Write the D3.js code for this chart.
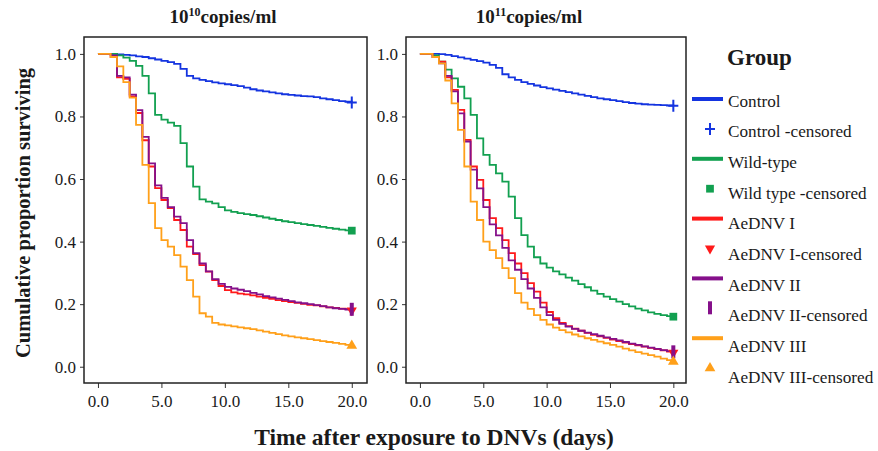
<!DOCTYPE html>
<html>
<head>
<meta charset="utf-8">
<script src="https://cdn.jsdelivr.net/npm/d3@7"></script>
<style>
  body { margin: 0; background: #fff; }
  svg text { font-family: "Liberation Serif", "Times New Roman", serif; fill: #1a1a1a; }
</style>
</head>
<body>
<div id="chart"></div>
<script>
// time points (days)
const days = [0, 0.5, 1, 1.5, 2, 2.5, 3, 3.5, 4, 4.5, 5, 5.5, 6, 6.5, 7, 7.5, 8, 8.5, 9, 9.5, 10,
              10.5, 11, 11.5, 12, 12.5, 13, 13.5, 14, 14.5, 15, 15.5, 16, 16.5, 17, 17.5, 18, 18.5, 19, 19.5, 20];

// 10^10 copies/ml
const control10 = [1, 1, 1, 0.998, 0.997, 0.995, 0.992, 0.99, 0.986, 0.982, 0.978, 0.974, 0.968, 0.952, 0.93, 0.922, 0.917, 0.913, 0.909, 0.906, 0.903,
                   0.9, 0.897, 0.892, 0.887, 0.883, 0.88, 0.877, 0.874, 0.871, 0.869, 0.867, 0.865, 0.864, 0.862, 0.858, 0.855, 0.852, 0.849, 0.847, 0.845];
const wild10 = [1, 1, 1, 0.995, 0.988, 0.978, 0.962, 0.93, 0.874, 0.805, 0.79, 0.78, 0.77, 0.715, 0.64, 0.576, 0.535, 0.528, 0.522, 0.51, 0.5,
                0.495, 0.491, 0.488, 0.485, 0.481, 0.477, 0.473, 0.469, 0.465, 0.462, 0.459, 0.456, 0.453, 0.45, 0.447, 0.444, 0.441, 0.438, 0.436, 0.435];
const dnv1_10 = [1, 1, 0.99, 0.925, 0.92, 0.864, 0.811, 0.724, 0.64, 0.571, 0.533, 0.507, 0.469, 0.437, 0.384, 0.36, 0.325, 0.304, 0.277, 0.258, 0.245,
                 0.238, 0.234, 0.231, 0.228, 0.224, 0.22, 0.217, 0.213, 0.21, 0.207, 0.204, 0.201, 0.198, 0.196, 0.193, 0.19, 0.188, 0.186, 0.184, 0.18];
const dnv2_10 = [1, 1, 0.995, 0.93, 0.925, 0.87, 0.82, 0.735, 0.65, 0.58, 0.54, 0.51, 0.48, 0.459, 0.405, 0.363, 0.33, 0.305, 0.28, 0.265, 0.255,
                 0.25, 0.246, 0.242, 0.236, 0.231, 0.226, 0.222, 0.218, 0.214, 0.21, 0.206, 0.203, 0.2, 0.197, 0.194, 0.19, 0.187, 0.185, 0.183, 0.182];
const dnv3_10 = [1, 1, 0.99, 0.96, 0.91, 0.86, 0.773, 0.645, 0.523, 0.443, 0.405, 0.384, 0.357, 0.32, 0.277, 0.224, 0.171, 0.16, 0.14, 0.135, 0.132,
                 0.129, 0.126, 0.123, 0.12, 0.116, 0.112, 0.108, 0.104, 0.1, 0.097, 0.094, 0.091, 0.088, 0.085, 0.082, 0.079, 0.076, 0.073, 0.07, 0.067];

// 10^11 copies/ml
const control11 = [1, 1, 1, 0.999, 0.997, 0.993, 0.989, 0.985, 0.981, 0.977, 0.972, 0.965, 0.955, 0.935, 0.925, 0.917, 0.91, 0.904, 0.899, 0.894, 0.89,
                   0.886, 0.882, 0.878, 0.874, 0.87, 0.866, 0.862, 0.858, 0.855, 0.852, 0.849, 0.846, 0.843, 0.841, 0.839, 0.838, 0.837, 0.836, 0.835, 0.834];
const wild11 = [1, 1, 0.995, 0.975, 0.95, 0.922, 0.895, 0.858, 0.805, 0.73, 0.677, 0.645, 0.618, 0.592, 0.544, 0.475, 0.421, 0.384, 0.35, 0.33, 0.317,
                0.305, 0.295, 0.285, 0.275, 0.264, 0.254, 0.243, 0.233, 0.224, 0.216, 0.208, 0.2, 0.193, 0.186, 0.18, 0.174, 0.169, 0.165, 0.162, 0.16];
const dnv1_11 = [1, 1, 0.99, 0.975, 0.925, 0.885, 0.821, 0.725, 0.64, 0.597, 0.533, 0.475, 0.443, 0.405, 0.363, 0.33, 0.299, 0.267, 0.24, 0.205, 0.175,
                 0.155, 0.14, 0.13, 0.122, 0.115, 0.108, 0.102, 0.097, 0.092, 0.087, 0.082, 0.077, 0.072, 0.068, 0.064, 0.06, 0.056, 0.052, 0.048, 0.045];
const dnv2_11 = [1, 1, 0.99, 0.97, 0.93, 0.88, 0.81, 0.72, 0.63, 0.57, 0.51, 0.455, 0.42, 0.38, 0.34, 0.31, 0.28, 0.25, 0.22, 0.19, 0.165,
                 0.15, 0.137, 0.128, 0.121, 0.115, 0.109, 0.104, 0.099, 0.094, 0.089, 0.084, 0.079, 0.074, 0.07, 0.065, 0.061, 0.057, 0.053, 0.05, 0.046];
const dnv3_11 = [1, 1, 0.99, 0.97, 0.915, 0.842, 0.757, 0.64, 0.528, 0.469, 0.4, 0.373, 0.347, 0.315, 0.283, 0.235, 0.205, 0.185, 0.165, 0.15, 0.135,
                 0.125, 0.117, 0.11, 0.103, 0.097, 0.091, 0.086, 0.08, 0.075, 0.07, 0.064, 0.058, 0.052, 0.047, 0.042, 0.037, 0.032, 0.026, 0.021, 0.016];

const groups = ["Control", "Wild-type", "AeDNV I", "AeDNV II", "AeDNV III"];
const censoredLabels = ["Control -censored", "Wild type -censored", "AeDNV I-censored", "AeDNV II-censored", "AeDNV III-censored"];
const xTicks = [0, 5, 10, 15, 20];
const yTicks = [0, 0.2, 0.4, 0.6, 0.8, 1.0];

const colors = ["#1434e0", "#12a050", "#ff1a1a", "#85108a", "#ffa01a"];
const symbols = [d3.symbolCross, d3.symbolSquare, "down", "bar", d3.symbolTriangle];

const width = 878, height = 451;

const svg = d3.select("#chart").append("svg")
    .attr("width", width)
    .attr("height", height);

const y = d3.scaleLinear().domain([-0.052, 1.054]).range([383, 37]);

const panels = [
    { title: "10", sup: "10", titleX: 223, left: 84, right: 367, dom: [-1.1, 21.2],
      series: [control10, wild10, dnv1_10, dnv2_10, dnv3_10] },
    { title: "10", sup: "11", titleX: 529, left: 406, right: 686, dom: [-1.1, 21.0],
      series: [control11, wild11, dnv1_11, dnv2_11, dnv3_11] }
];

function drawMarker(g, kind, cx, cy, color) {
    if (kind === "down") {
        g.append("path")
         .attr("d", d3.symbol().type(d3.symbolTriangle).size(45)())
         .attr("transform", `translate(${cx},${cy}) rotate(180)`)
         .attr("fill", color);
    } else if (kind === "bar") {
        g.append("rect")
         .attr("x", cx - 2).attr("y", cy - 7)
         .attr("width", 4).attr("height", 13)
         .attr("fill", color);
    } else if (kind === d3.symbolCross) {
        g.append("path")
         .attr("d", `M${cx - 5},${cy}H${cx + 5}M${cx},${cy - 6}V${cy + 6}`)
         .attr("stroke", color).attr("stroke-width", 2).attr("fill", "none");
    } else {
        g.append("path")
         .attr("d", d3.symbol().type(kind).size(kind === d3.symbolSquare ? 60 : 50)())
         .attr("transform", `translate(${cx},${cy})`)
         .attr("fill", color);
    }
}

panels.forEach(p => {
    const x = d3.scaleLinear().domain(p.dom).range([p.left, p.right]);
    const g = svg.append("g");

    // title
    const t = g.append("text")
        .attr("x", p.titleX).attr("y", 23)
        .attr("text-anchor", "middle")
        .style("font-size", "19px").style("font-weight", "bold");
    t.append("tspan").text(p.title);
    t.append("tspan").attr("dy", -7).style("font-size", "12px").text(p.sup);
    t.append("tspan").attr("dy", 7).text("copies/ml");

    // axes
    g.append("g")
     .attr("transform", `translate(${p.left},0)`)
     .call(d3.axisLeft(y).tickValues(yTicks).tickFormat(d3.format(".1f")).tickSize(4).tickPadding(4))
     .call(a => a.select(".domain").remove())
     .call(a => a.selectAll("text").style("font-size", "17px").attr("font-family", null).attr("fill", "#222"))
     .call(a => a.selectAll("line").attr("stroke", "#333"));

    g.append("g")
     .attr("transform", "translate(0,383)")
     .call(d3.axisBottom(x).tickValues(xTicks).tickFormat(d3.format(".1f")).tickSize(5).tickPadding(7))
     .call(a => a.select(".domain").remove())
     .call(a => a.selectAll("text").style("font-size", "17px").attr("font-family", null).attr("fill", "#222"))
     .call(a => a.selectAll("line").attr("stroke", "#333"));

    // curves
    const line = d3.line()
        .x((d, i) => x(days[i]))
        .y(d => y(d))
        .curve(d3.curveStepAfter);

    p.series.forEach((s, i) => {
        g.append("path")
         .datum(s)
         .attr("fill", "none")
         .attr("stroke", colors[i])
         .attr("stroke-width", 1.8)
         .attr("d", line);
    });

    // censored markers at the last time point
    p.series.forEach((s, i) => {
        drawMarker(g, symbols[i], x(days[days.length - 1]), y(s[s.length - 1]), colors[i]);
    });

    // frame
    g.append("rect")
     .attr("x", p.left).attr("y", 37)
     .attr("width", p.right - p.left).attr("height", 383 - 37)
     .attr("fill", "none").attr("stroke", "#222").attr("stroke-width", 1.5);
});

// axis titles
svg.append("text")
   .attr("transform", "translate(30,213) rotate(-90)")
   .attr("text-anchor", "middle")
   .style("font-size", "20.5px").style("font-weight", "bold")
   .text("Cumulative proportion surviving");

svg.append("text")
   .attr("x", 434).attr("y", 445)
   .attr("text-anchor", "middle")
   .style("font-size", "23.5px").style("font-weight", "bold")
   .text("Time after exposure to DNVs (days)");

// legend
const legend = svg.append("g");
legend.append("text")
      .attr("x", 727).attr("y", 65)
      .style("font-size", "23px").style("font-weight", "bold")
      .text("Group");

groups.forEach((name, i) => {
    const r1 = 2 * i, r2 = 2 * i + 1;
    legend.append("line")
          .attr("x1", 692).attr("x2", 723)
          .attr("y1", 99 + r1 * 29.9).attr("y2", 99 + r1 * 29.9)
          .attr("stroke", colors[i]).attr("stroke-width", 4);
    legend.append("text")
          .attr("x", 728).attr("y", 100.5 + r1 * 30.7)
          .attr("dy", "0.35em")
          .style("font-size", "17.2px")
          .text(name);
    drawMarker(legend, symbols[i], 710, 99 + r2 * 29.9, colors[i]);
    legend.append("text")
          .attr("x", 728).attr("y", 100.5 + r2 * 30.7)
          .attr("dy", "0.35em")
          .style("font-size", "17.2px")
          .text(censoredLabels[i]);
});
</script>
</body>
</html>
